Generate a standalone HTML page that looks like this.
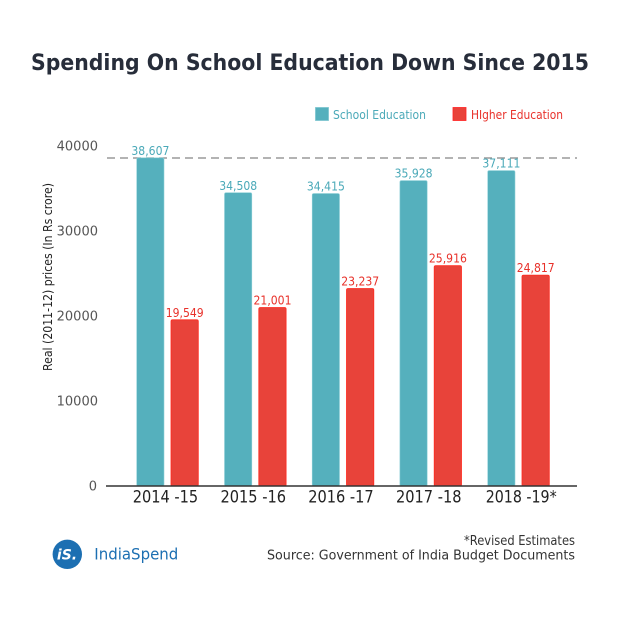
<!DOCTYPE html>
<html>
<head>
<meta charset="utf-8">
<style>
  html,body{margin:0;padding:0;background:#fff;}
  svg{display:block;}
  text{font-family:"DejaVu Sans","Liberation Sans",sans-serif;}
</style>
</head>
<body>
<svg width="620" height="620" viewBox="0 0 620 620" xmlns="http://www.w3.org/2000/svg">
  <rect width="620" height="620" fill="#fff"/>
  <!-- Title -->
  <text x="31" y="70" font-size="22.5" font-weight="bold" fill="#272d3a" textLength="558" lengthAdjust="spacingAndGlyphs">Spending On School Education Down Since 2015</text>

  <!-- Legend -->
  <rect x="315.5" y="107.5" width="13" height="13" fill="#55b0bd" stroke="#7cc5cf" stroke-width="0.8"/>
  <text x="333" y="119" font-size="12.5" fill="#4aa9b8" textLength="93" lengthAdjust="spacingAndGlyphs">School Education</text>
  <rect x="453" y="107.5" width="13" height="13" fill="#e8433a" stroke="#f22" stroke-width="0.8"/>
  <text x="471" y="119" font-size="12.5" fill="#e8312a" textLength="92" lengthAdjust="spacingAndGlyphs">HIgher Education</text>

  <!-- Y axis label -->
  <text transform="translate(52,277) rotate(-90)" text-anchor="middle" font-size="12" fill="#222" textLength="188" lengthAdjust="spacingAndGlyphs">Real (2011-12) prices (In Rs crore)</text>

  <!-- Y ticks -->
  <g font-size="13" fill="#555" text-anchor="end">
    <text x="98" y="150.5">40000</text>
    <text x="98" y="235.5">30000</text>
    <text x="98" y="320.5">20000</text>
    <text x="98" y="405.5">10000</text>
    <text x="97" y="490.5">0</text>
  </g>

  <!-- Dashed reference line -->
  <line x1="107" y1="158" x2="577" y2="158" stroke="#9a9a9a" stroke-width="1.5" stroke-dasharray="8 5"/>

  <!-- Bars -->
  <g fill="#55b0bd" stroke="#8fd0d8" stroke-width="0.6">
    <rect x="136.7" y="157.8" width="27.3" height="328.2" rx="1.5"/>
    <rect x="224.5" y="192.7" width="27.3" height="293.3" rx="1.5"/>
    <rect x="312.2" y="193.5" width="27.3" height="292.5" rx="1.5"/>
    <rect x="399.9" y="180.6" width="27.3" height="305.4" rx="1.5"/>
    <rect x="487.7" y="170.6" width="27.3" height="315.4" rx="1.5"/>
  </g>
  <g fill="#e8433a" stroke="#ff2a1f" stroke-width="0.8">
    <rect x="171" y="319.8" width="27.3" height="166.2" rx="1.5"/>
    <rect x="258.8" y="307.5" width="27.3" height="178.5" rx="1.5"/>
    <rect x="346.5" y="288.5" width="27.3" height="197.5" rx="1.5"/>
    <rect x="434.2" y="265.7" width="27.3" height="220.3" rx="1.5"/>
    <rect x="522" y="275.1" width="27.3" height="210.9" rx="1.5"/>
  </g>

  <!-- Value labels -->
  <g font-size="12" fill="#4aa9b8" text-anchor="middle">
    <text x="150.4" y="155" textLength="38" lengthAdjust="spacingAndGlyphs">38,607</text>
    <text x="238.2" y="190" textLength="38" lengthAdjust="spacingAndGlyphs">34,508</text>
    <text x="325.9" y="190.5" textLength="38" lengthAdjust="spacingAndGlyphs">34,415</text>
    <text x="413.6" y="177.5" textLength="38" lengthAdjust="spacingAndGlyphs">35,928</text>
    <text x="501.4" y="167.5" textLength="38" lengthAdjust="spacingAndGlyphs">37,111</text>
  </g>
  <g font-size="12" fill="#e8312a" text-anchor="middle">
    <text x="184.7" y="317" textLength="38" lengthAdjust="spacingAndGlyphs">19,549</text>
    <text x="272.5" y="304.5" textLength="38" lengthAdjust="spacingAndGlyphs">21,001</text>
    <text x="360.2" y="285.5" textLength="38" lengthAdjust="spacingAndGlyphs">23,237</text>
    <text x="447.9" y="262.7" textLength="38" lengthAdjust="spacingAndGlyphs">25,916</text>
    <text x="535.7" y="272.1" textLength="38" lengthAdjust="spacingAndGlyphs">24,817</text>
  </g>

  <!-- X axis -->
  <line x1="106" y1="486" x2="577" y2="486" stroke="#333" stroke-width="1.5"/>
  <g font-size="16.5" fill="#222">
    <text x="132.7" y="502.5" textLength="65.5" lengthAdjust="spacingAndGlyphs">2014 -15</text>
    <text x="220.5" y="502.5" textLength="65.5" lengthAdjust="spacingAndGlyphs">2015 -16</text>
    <text x="308.2" y="502.5" textLength="65.5" lengthAdjust="spacingAndGlyphs">2016 -17</text>
    <text x="396" y="502.5" textLength="65.5" lengthAdjust="spacingAndGlyphs">2017 -18</text>
    <text x="485.7" y="502.5" textLength="71" lengthAdjust="spacingAndGlyphs">2018 -19*</text>
  </g>

  <!-- Footer logo -->
  <circle cx="67.3" cy="554.3" r="14.7" fill="#1c6fb2"/>
  <text x="67" y="559.5" text-anchor="middle" font-size="14" font-weight="bold" font-style="italic" fill="#fff">iS.</text>
  <text x="94.3" y="559.5" font-size="16" fill="#1c6fb2" textLength="84" lengthAdjust="spacingAndGlyphs">IndiaSpend</text>

  <!-- Source -->
  <text x="575" y="545" text-anchor="end" font-size="13.5" fill="#333" textLength="111" lengthAdjust="spacingAndGlyphs">*Revised Estimates</text>
  <text x="575" y="559.5" text-anchor="end" font-size="13.5" fill="#333" textLength="308" lengthAdjust="spacingAndGlyphs">Source: Government of India Budget Documents</text>
</svg>
</body>
</html>
